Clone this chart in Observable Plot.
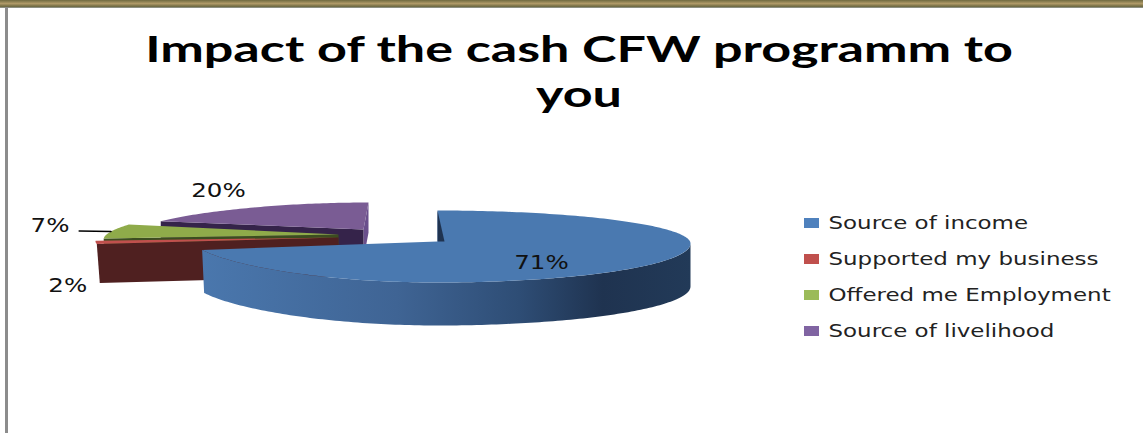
<!DOCTYPE html>
<html>
<head>
<meta charset="utf-8">
<script src="https://cdn.jsdelivr.net/npm/d3@7"></script>
<script src="https://cdn.jsdelivr.net/npm/@observablehq/plot@0.6"></script>
<style>
  html, body { margin: 0; padding: 0; background: #fff; }
  #chart { position: relative; width: 1143px; height: 433px; overflow: hidden; background: #fff; }
  #topbar { position: absolute; left: 0; top: 0; width: 1143px; height: 8px;
    background: linear-gradient(#6f6a40 0, #b09a68 45%, #6f6a40 80%, #9aa0a0 100%); }
  #leftbar { position: absolute; left: 5px; top: 7px; width: 3px; height: 426px; background: #8c8c8c; }
  #title { position: absolute; left: 0; top: 0; width: 1143px; height: 130px; text-align: center;
    font: 700 37px/44px Lato, sans-serif; color: #000; }
  #title div { position: absolute; left: 79px; width: 1000px; transform: scaleX(1.407); }
  #main { position: absolute; left: 0; top: 130px; }
  #legend { position: absolute; left: 804px; top: 205px; }
  svg { display: block; background: transparent !important; }
</style>
</head>
<body>
<div id="chart">
  <div id="topbar"></div>
  <div id="leftbar"></div>
  <div id="title"><div style="top:26px">Impact of the cash CFW programm to</div><div style="top:71px">you</div></div>
  <div id="main"></div>
  <div id="legend"></div>
</div>
<script>
// ---- chart values ----
const categories = ["Source of income", "Supported my business", "Offered me Employment", "Source of livelihood"];
const shares = [71, 2, 7, 20];
const shareLabels = ["71%", "2%", "7%", "20%"];

// ---- colours ----
const legendColors = ["#4f81bd", "#c0504d", "#9bbb59", "#8064a2"];
const topColors = ["#4a79b0", "#c0504d", "#8fab4a", "#7a5c94"];
const edgeColors = ["#1f3350", "#4f2020", "#3c4d20", "#35234a"];

// ---- 3-D exploded pie projection (one entry per slice) ----
const sliceView = [
  {ax: 437, ay: 241, cy: 243, left: 243, right: 253, back: 33, front: 39, k: 0,   shear: 0, depth: 43, lp: 1.3, tilt: 2},
  {ax: 338, ay: 237, cy: 237, left: 240, right: 240, back: 26, front: 26, k: .16, shear: 0, depth: 39, lp: 1, tilt: 3},
  {ax: 338, ay: 234, cy: 234, left: 232, right: 232, back: 32, front: 32, k: .16, shear: 0, depth: 39, lp: 1, tilt: 0},
  {ax: 363, ay: 229, cy: 229, left: 226, right: 226, back: 27, front: 27, k: .16, shear: 5, depth: 40, lp: 1, tilt: 0}
];
const labelPlace = [
  {r: .52, dy: 7},
  {r: 1.115, dy: 43},
  {r: 1.268, dy: -5},
  {r: 1.3, dy: -10}
];

const arcs = d3.pie().sort(null).value(d => d).startAngle(0).endAngle(2 * Math.PI)(shares);

function project(i, angle, r = 1, down = 0) {
  const v = sliceView[i], s = Math.sin(angle), c = Math.cos(angle);
  const rx = (s < 0 ? v.left : v.right) * (1 - v.k * c);
  const cc = c > 0 ? v.back * c : -v.front * (s < 0 ? Math.pow(-c, v.lp) : -c);
  const t = s < 0 ? v.tilt * down / Math.max(v.depth, 1) : 0;
  return {x: v.ax + v.shear * c * r + rx * s * r + t, y: v.cy - cc * r + down};
}
const apex = (i, down = 0, dx = 0) => ({x: sliceView[i].ax + dx, y: sliceView[i].ay + down});
function rim(i, a0, a1, down = 0) {
  const n = Math.max(2, Math.ceil(Math.abs(a1 - a0) / 0.02));
  return d3.range(n + 1).map(j => project(i, a0 + (a1 - a0) * j / n, 1, down));
}
const topFace = i => [apex(i), ...rim(i, arcs[i].startAngle, arcs[i].endAngle), apex(i)];
const cutFace = (i, a, d) => [apex(i), project(i, a), project(i, a, 1, d), apex(i, d), apex(i)];
const poly = (pts, fill) => Plot.line(pts, {x: "x", y: "y", fill, stroke: "none", curve: "linear"});

const defs = () => {
  const g = d3.create("svg:linearGradient").attr("id", "blueWall");
  [[0, "#4a77ad"], [.4, "#3f6494"], [.65, "#2e4d75"], [.82, "#1f3350"], [1, "#223a58"]]
    .forEach(([o, c]) => g.append("stop").attr("offset", o).attr("stop-color", c));
  const d = d3.create("svg:defs");
  d.node().append(g.node());
  return d.node();
};

const blueWall = [
  ...rim(0, Math.PI / 2, arcs[0].endAngle),
  ...rim(0, arcs[0].endAngle, Math.PI / 2, sliceView[0].depth)
];
const midAngle = i => (arcs[i].startAngle + arcs[i].endAngle) / 2;
const labelRows = shareLabels.map((label, i) => {
  const p = project(i, midAngle(i), labelPlace[i].r);
  return {label, x: p.x, y: p.y + labelPlace[i].dy};
});
const leader = [project(2, midAngle(2), 1.14), project(2, midAngle(2), 1)];

const main = Plot.plot({
  width: 1143, height: 303,
  margin: 0,
  x: {axis: null, domain: [0, 1143], range: [0, 1143]},
  y: {axis: null, domain: [130, 433], range: [0, 303]},
  marks: [
    defs,
    // source of livelihood
    poly(cutFace(3, 2 * Math.PI, 30), "#6a4f8c"),
    poly(cutFace(3, arcs[3].startAngle, sliceView[3].depth), edgeColors[3]),
    poly(topFace(3), topColors[3]),
    // offered me employment
    poly(cutFace(2, arcs[2].startAngle, sliceView[2].depth), edgeColors[2]),
    poly(topFace(2), topColors[2]),
    // supported my business
    poly(cutFace(1, arcs[1].startAngle, sliceView[1].depth), edgeColors[1]),
    poly(topFace(1), topColors[1]),
    // source of income
    poly(blueWall, "url(#blueWall)"),
    poly(topFace(0), topColors[0]),
    poly([project(0, 0), apex(0), apex(0, 0, 7)], edgeColors[0]),
    // labels
    Plot.line(leader, {x: "x", y: "y", stroke: "#000", strokeWidth: 1.5}),
    Plot.text(labelRows, {x: "x", y: "y", text: "label", fontSize: 19, fontFamily: "DejaVu Sans", fill: "#111"})
  ]
});
document.getElementById("main").append(main);

const legend = Plot.plot({
  width: 339, height: 144,
  marginLeft: 0, marginRight: 324, marginTop: 0, marginBottom: 0,
  x: {axis: null, domain: [0, 1]},
  y: {axis: null, type: "band", domain: categories, paddingInner: .72, paddingOuter: .36},
  marks: [
    Plot.barX(categories, {x1: () => 0, x2: () => 1, y: d => d, fill: (d, i) => legendColors[i]}),
    Plot.text(categories, {x: () => 1, y: d => d, text: d => d, dx: 9, textAnchor: "start",
      fontSize: 17, fontFamily: "DejaVu Sans", fill: "#222"})
  ]
});
document.getElementById("legend").append(legend);

// The reference's text is horizontally stretched: widen the real text glyphs.
const stretch = (root, f) => root.querySelectorAll("text").forEach(t => {
  t.setAttribute("lengthAdjust", "spacingAndGlyphs");
  t.setAttribute("textLength", t.getComputedTextLength() * f);
});
stretch(legend, 1.35);
stretch(main, 1.29);
</script>
</body>
</html>
